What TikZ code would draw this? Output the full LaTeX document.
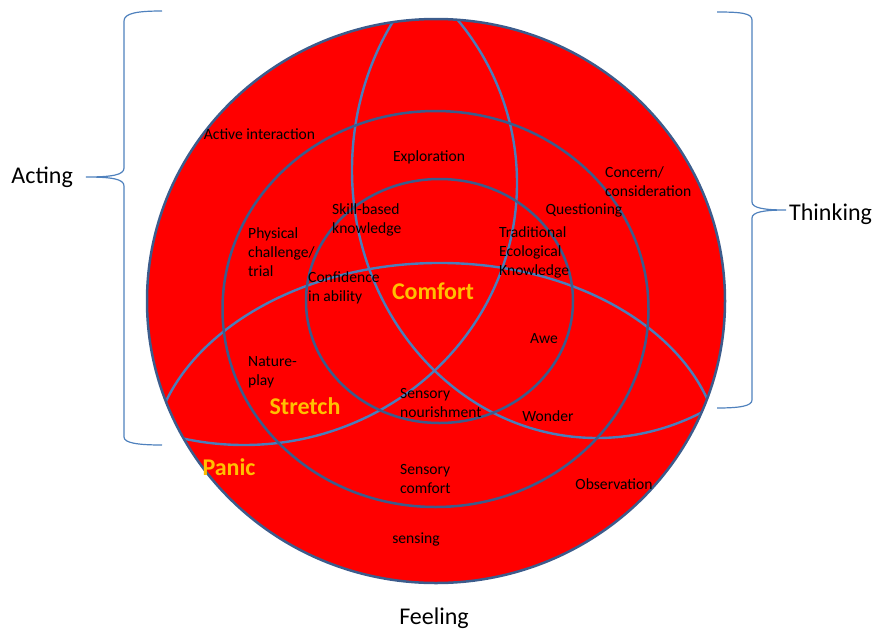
\documentclass[tikz,border=0pt]{standalone}
\usepackage{fontspec}
\setmainfont{Carlito}
\definecolor{ringblue}{RGB}{60,92,140}
\definecolor{vennblue}{RGB}{74,126,187}
\definecolor{braceblue}{RGB}{79,129,189}
\definecolor{zoneorange}{RGB}{255,192,0}
\definecolor{fieldred}{RGB}{255,0,0}
\begin{document}
\begin{tikzpicture}[x=1pt,y=-1pt,
  ring/.style={draw=ringblue, line width=2.5pt},
  venn/.style={draw=vennblue, line width=2.4pt},
  brace/.style={draw=braceblue, line width=1.2pt},
  lbl/.style={inner sep=0pt, font=\fontsize{15.6}{19}\selectfont, text=black},
  multi/.style={lbl, anchor=west, align=left},
  zone/.style={inner sep=0pt, font=\fontsize{24}{28}\selectfont\bfseries, text=zoneorange},
  axislbl/.style={inner sep=0pt, font=\fontsize{24}{28}\selectfont, text=black},
]
\useasboundingbox (0,0) rectangle (873,630);

% outer zone (Panic), filled
\coordinate (panicC) at (436,301);
\coordinate (stretchC) at (435.5,309);
\coordinate (comfortC) at (439.5,301);
\fill[fieldred] (panicC) ellipse [x radius=289, y radius=282];

% the three overlapping fields, kept inside the outer zone
\begin{scope}
  \clip (panicC) ellipse [x radius=289, y radius=282];
  \coordinate (actC) at (244,183);
  \coordinate (thinkC) at (597,170);
  \coordinate (feelC) at (436,463);
  \draw[venn] (actC) ellipse [x radius=273, y radius=262];
  \draw[venn] (thinkC) ellipse [x radius=245, y radius=268];
  \draw[venn, rotate around={1:(feelC)}] (feelC) ellipse [x radius=285, y radius=200];
\end{scope}

% concentric zones
\draw[ring] (panicC) ellipse [x radius=289, y radius=282];
\draw[ring] (stretchC) ellipse [x radius=213, y radius=198];
\draw[ring] (comfortC) ellipse [x radius=133.5, y radius=122];

% labels inside the zones
\node[lbl] (active) at (259.5,134) {Active interaction};
\node[lbl] (explore) at (429,157) {Exploration};
\node[multi] (concern) at (605,181.5) {Concern/\\consideration};
\node[lbl] (question) at (584,210) {Questioning};
\node[multi] (skill) at (332,219.5) {Skill-based\\knowledge};
\node[multi] (physical) at (248,252) {Physical\\challenge/\\trial};
\node[multi] (tek) at (499,252) {Traditional\\Ecological\\Knowledge};
\node[multi] (confidence) at (308,288) {Confidence\\in ability};
\node[zone] (comfort) at (433,291) {Comfort};
\node[lbl] (awe) at (544,339) {Awe};
\node[multi] (nature) at (248,372.5) {Nature-\\play};
\node[zone] (stretch) at (305,406) {Stretch};
\node[multi] (nourish) at (400,402.5) {Sensory\\nourishment};
\node[lbl] (wonder) at (548,416) {Wonder};
\node[zone] (panic) at (229,467) {Panic};
\node[multi] (scomfort) at (400,478.5) {Sensory\\comfort};
\node[lbl] (observe) at (614,484) {Observation};
\node[lbl] (sensing) at (416,539) {sensing};

% dimension labels and their braces
\node[axislbl, anchor=east] (acting) at (73,177) {Acting};
\node[axislbl, anchor=west] (thinking) at (789,214) {Thinking};
\node[axislbl] (feeling) at (434,618) {Feeling};

\coordinate (actTop) at (162,11);
\coordinate (actTip) at (86,177);
\coordinate (actBot) at (162,445);
\draw[brace] (actTop) .. controls (138,11) and (124,13) .. (124,21)
  -- (124,168) .. controls (124,175) and (112,177) .. (actTip)
  .. controls (112,177) and (124,179) .. (124,186)
  -- (124,437) .. controls (124,443) and (138,445) .. (actBot);

\coordinate (thinkTop) at (717,12);
\coordinate (thinkTip) at (786,210);
\coordinate (thinkBot) at (717,408);
\draw[brace] (thinkTop) .. controls (740,12) and (752,13) .. (752,20)
  -- (752,202) .. controls (752,208) and (764,210) .. (thinkTip)
  .. controls (764,210) and (752,212) .. (752,218)
  -- (752,400) .. controls (752,406) and (740,408) .. (thinkBot);
\end{tikzpicture}
\end{document}
